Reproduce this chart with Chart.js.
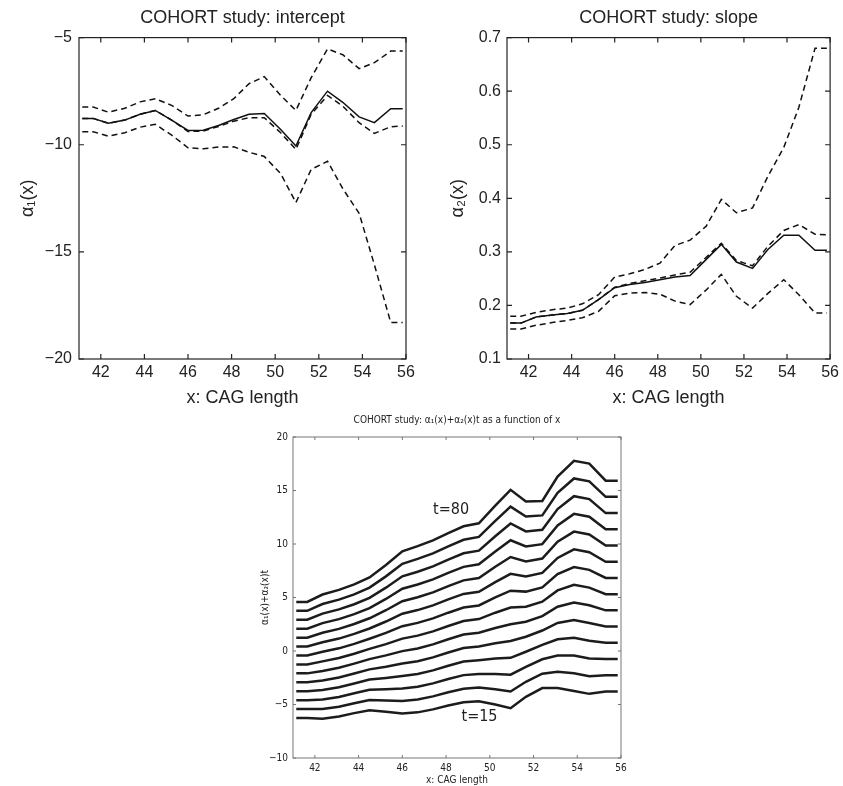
<!DOCTYPE html>
<html>
<head>
<meta charset="utf-8">
<script src="https://cdn.jsdelivr.net/npm/chart.js@4/dist/chart.umd.min.js"></script>
<style>
  html, body { margin: 0; padding: 0; background: #fff; }
  #page { position: relative; width: 843px; height: 786px; overflow: hidden; }
  canvas { position: absolute; }
</style>
</head>
<body>
<div id="page">
  <canvas id="chartIntercept" width="420" height="410" style="left:0;top:0"></canvas>
  <canvas id="chartSlope" width="423" height="410" style="left:420px;top:0"></canvas>
  <canvas id="chartSurface" width="400" height="391" style="left:240px;top:395px"></canvas>
</div>
<script>
// CAG length grid
const cagLength = [41.15, 41.65, 42.35, 43.1, 43.8, 44.5, 45.25, 46.0, 46.7, 47.4, 48.1,
                   48.8, 49.5, 50.25, 50.95, 51.65, 52.4, 53.1, 53.85, 54.55, 55.3, 55.85];

// intercept alpha1(x): estimate, second estimate, band
const alpha1 = [-8.77, -8.77, -9.0, -8.85, -8.58, -8.4, -8.85, -9.33, -9.32, -9.1, -8.82,
                -8.58, -8.54, -9.29, -10.06, -8.5, -7.5, -8.02, -8.7, -8.97, -8.32, -8.32];
const alpha1Alt = [-8.77, -8.77, -9.0, -8.85, -8.58, -8.4, -8.85, -9.38, -9.36, -9.15, -8.9,
                   -8.74, -8.74, -9.44, -10.22, -8.58, -7.7, -8.2, -8.97, -9.47, -9.16, -9.13];
const alpha1Upper = [-8.24, -8.24, -8.48, -8.3, -8.0, -7.85, -8.16, -8.66, -8.6, -8.3, -7.85,
                     -7.15, -6.82, -7.7, -8.4, -6.87, -5.53, -5.8, -6.45, -6.17, -5.63, -5.63];
const alpha1Lower = [-9.39, -9.39, -9.6, -9.44, -9.18, -9.05, -9.55, -10.14, -10.19, -10.11, -10.1,
                     -10.35, -10.55, -11.35, -12.7, -11.15, -10.77, -12.05, -13.2, -15.6, -18.3, -18.3];

// slope alpha2(x)
const alpha2 = [0.167, 0.167, 0.1785, 0.182, 0.185, 0.191, 0.211, 0.233, 0.239, 0.243, 0.248,
                0.253, 0.256, 0.286, 0.314, 0.281, 0.269, 0.304, 0.331, 0.331, 0.303, 0.303];
const alpha2Alt = [0.167, 0.167, 0.1785, 0.182, 0.185, 0.191, 0.211, 0.234, 0.241, 0.246, 0.251,
                   0.257, 0.262, 0.29, 0.316, 0.284, 0.274, 0.31, 0.34, 0.351, 0.333, 0.332];
const alpha2Upper = [0.18, 0.18, 0.187, 0.192, 0.195, 0.203, 0.22, 0.253, 0.259, 0.267, 0.279,
                     0.312, 0.322, 0.348, 0.398, 0.373, 0.382, 0.44, 0.495, 0.57, 0.68, 0.68];
const alpha2Lower = [0.156, 0.156, 0.163, 0.168, 0.172, 0.177, 0.189, 0.218, 0.223, 0.224, 0.221,
                     0.208, 0.2015, 0.229, 0.258, 0.217, 0.195, 0.222, 0.248, 0.22, 0.186, 0.186];

// times shown in the bottom panel (t=15 ... t=80)
const tValues = [15, 20, 25, 30, 35, 40, 45, 50, 55, 60, 65, 70, 75, 80];

// tick labels
const xTicks = [42, 44, 46, 48, 50, 52, 54, 56];
const interceptTicks = [-20, -15, -10, -5];
const slopeTicks = [0.1, 0.2, 0.3, 0.4, 0.5, 0.6, 0.7];
const surfaceTicks = [-10, -5, 0, 5, 10, 15, 20];

const sans = "'Liberation Sans', Arial, 'DejaVu Sans', sans-serif";
const narrow = "'Liberation Sans Narrow', 'DejaVu Sans Condensed', 'Liberation Sans', sans-serif";
const ink = '#222';

const minus = v => String(v).replace('-', '\u2212');
const pts = ys => cagLength.map((x, i) => ({ x: x, y: ys[i] }));

// box round the plot with inward ticks on all four sides
const frame = {
  id: 'frame',
  afterDraw(chart, args, opts) {
    const { ctx, chartArea: a, scales: { x, y } } = chart;
    const L = opts.tick;
    ctx.save();
    ctx.strokeStyle = opts.color;
    ctx.lineWidth = opts.width;
    ctx.strokeRect(a.left, a.top, a.right - a.left, a.bottom - a.top);
    ctx.beginPath();
    x.ticks.forEach(t => {
      const p = x.getPixelForValue(t.value);
      ctx.moveTo(p, a.bottom); ctx.lineTo(p, a.bottom - L);
      ctx.moveTo(p, a.top); ctx.lineTo(p, a.top + L);
    });
    y.ticks.forEach(t => {
      const p = y.getPixelForValue(t.value);
      ctx.moveTo(a.left, p); ctx.lineTo(a.left + L, p);
      ctx.moveTo(a.right, p); ctx.lineTo(a.right - L, p);
    });
    ctx.stroke();
    ctx.restore();
  }
};

const notes = {
  id: 'notes',
  afterDatasetsDraw(chart, args, opts) {
    if (!opts.items) return;
    const { ctx, scales: { x, y } } = chart;
    ctx.save();
    ctx.fillStyle = opts.color;
    ctx.font = opts.font;
    ctx.textAlign = 'center';
    ctx.textBaseline = 'middle';
    opts.items.forEach(n => ctx.fillText(n.text, x.getPixelForValue(n.x), y.getPixelForValue(n.y)));
    ctx.restore();
  }
};

function lineSet(ys, dashed) {
  return {
    data: pts(ys),
    borderColor: '#111',
    borderWidth: 1.5,
    borderDash: dashed ? [6, 4] : [],
    pointRadius: 0,
    tension: 0,
    fill: false
  };
}

function topOptions(c) {
  return {
    responsive: false,
    animation: false,
    layout: { padding: { left: 0, right: c.padRight, top: 0, bottom: 0 } },
    plugins: {
      legend: { display: false },
      tooltip: { enabled: false },
      title: {
        display: true, text: c.title, fullSize: false, color: ink,
        font: { family: sans, size: 18, weight: 'normal' },
        padding: { top: 7, bottom: 9 }
      },
      frame: { color: '#222', width: 1.2, tick: 5 }
    },
    scales: {
      x: {
        type: 'linear', min: 41, max: 56,
        afterBuildTicks: s => { s.ticks = xTicks.map(v => ({ value: v })); },
        afterFit: s => { s.height = 51; },
        grid: { display: false, drawTicks: false },
        border: { display: false },
        ticks: { color: ink, padding: 4, maxRotation: 0, autoSkip: false, font: { family: sans, size: 16 } },
        title: { display: true, text: 'x: CAG length', color: ink, font: { family: sans, size: 18 }, padding: { top: 0, bottom: 1 } }
      },
      y: {
        type: 'linear', min: c.yMin, max: c.yMax,
        afterBuildTicks: s => { s.ticks = c.yTicks.map(v => ({ value: v })); },
        afterFit: s => { s.width = c.yWidth; },
        grid: { display: false, drawTicks: false },
        border: { display: false },
        ticks: { color: ink, padding: c.tickPad, autoSkip: false, font: { family: sans, size: 16 }, callback: c.label },
        title: { display: true, text: c.yTitle, color: ink, font: { family: sans, size: 18 }, padding: { top: c.titlePad, bottom: 0 } }
      }
    }
  };
}

new Chart(document.getElementById('chartIntercept'), {
  type: 'line',
  data: { datasets: [lineSet(alpha1, false), lineSet(alpha1Alt, true), lineSet(alpha1Upper, true), lineSet(alpha1Lower, true)] },
  options: topOptions({
    title: 'COHORT study: intercept', padRight: 14, yMin: -20, yMax: -5, yTicks: interceptTicks,
    yWidth: 79, tickPad: 7, titlePad: 17, yTitle: '\u03b1\u2081(x)', label: v => minus(v)
  }),
  plugins: [frame]
});

new Chart(document.getElementById('chartSlope'), {
  type: 'line',
  data: { datasets: [lineSet(alpha2, false), lineSet(alpha2Alt, true), lineSet(alpha2Upper, true), lineSet(alpha2Lower, true)] },
  options: topOptions({
    title: 'COHORT study: slope', padRight: 8, yMin: 0.1, yMax: 0.7, yTicks: slopeTicks,
    yWidth: 87, tickPad: 6, titlePad: 27, yTitle: '\u03b1\u2082(x)', label: v => v.toFixed(1)
  }),
  plugins: [frame]
});

// alpha1(x) + alpha2(x) t for each t, as the panel title says
const surfaceSets = tValues.map(t => ({
  data: cagLength.map((x, i) => ({ x: x, y: alpha1[i] + alpha2[i] * t })),
  borderColor: '#1c1c1c',
  borderWidth: 2.5,
  pointRadius: 0,
  tension: 0,
  fill: false
}));

new Chart(document.getElementById('chartSurface'), {
  type: 'line',
  data: { datasets: surfaceSets },
  options: {
    responsive: false,
    animation: false,
    layout: { padding: { left: 0, right: 19, top: 0, bottom: 0 } },
    plugins: {
      legend: { display: false },
      tooltip: { enabled: false },
      title: {
        display: true, text: 'COHORT study: \u03b1\u2081(x)+\u03b1\u2082(x)t as a function of x', fullSize: false, color: ink,
        font: { family: narrow, size: 10, weight: 'normal' },
        padding: { top: 19, bottom: 11 }
      },
      frame: { color: '#777', width: 1, tick: 3 },
      notes: {
        color: '#222', font: '16px ' + narrow,
        items: [{ text: 't=80', x: 48.23, y: 13.2 }, { text: 't=15', x: 49.53, y: -6.2 }]
      }
    },
    scales: {
      x: {
        type: 'linear', min: 41, max: 56,
        afterBuildTicks: s => { s.ticks = xTicks.map(v => ({ value: v })); },
        afterFit: s => { s.height = 28; },
        grid: { display: false, drawTicks: false },
        border: { display: false },
        ticks: { color: ink, padding: 4, maxRotation: 0, autoSkip: false, font: { family: narrow, size: 10 } },
        title: { display: true, text: 'x: CAG length', color: ink, font: { family: narrow, size: 10 }, padding: { top: 0, bottom: 0 } }
      },
      y: {
        type: 'linear', min: -10, max: 20,
        afterBuildTicks: s => { s.ticks = surfaceTicks.map(v => ({ value: v })); },
        afterFit: s => { s.width = 53; },
        grid: { display: false, drawTicks: false },
        border: { display: false },
        ticks: { color: ink, padding: 5, autoSkip: false, font: { family: narrow, size: 10 }, callback: v => minus(v) },
        title: { display: true, text: '\u03b1\u2081(x)+\u03b1\u2082(x)t', color: ink, font: { family: narrow, size: 10 }, padding: { top: 19, bottom: 0 } }
      }
    }
  },
  plugins: [frame, notes]
});
</script>
</body>
</html>
